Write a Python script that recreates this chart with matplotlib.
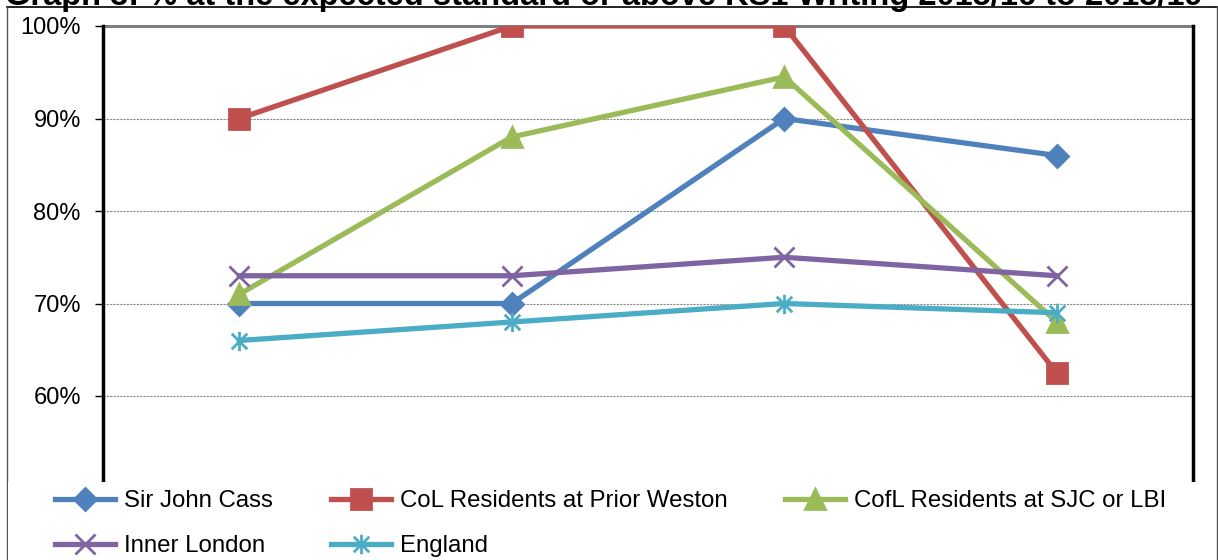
import matplotlib
matplotlib.use("Agg")
import matplotlib.pyplot as plt
from matplotlib.lines import Line2D
from matplotlib.patches import Rectangle
from matplotlib.path import Path
from matplotlib.ticker import FuncFormatter

plt.rcParams['font.family'] = ['Liberation Sans', 'DejaVu Sans']

years = ['2015/16', '2016/17', '2017/18', '2018/19']
sir_john_cass = [70, 70, 90, 86]
col_prior_weston = [90, 100, 100, 62.5]
cofl_sjc_lbi = [71, 88, 94.5, 68]
inner_london = [73, 73, 75, 73]
england = [66, 68, 70, 69]

# excel style star: vertical bar plus an x
star = Path([(0, -1), (0, 1), (-0.8, -0.8), (0.8, 0.8), (-0.8, 0.8), (0.8, -0.8)],
            [Path.MOVETO, Path.LINETO] * 3)

series = [
    ('Sir John Cass', sir_john_cass, '#4F81BD', 'D', 11),
    ('CoL Residents at Prior Weston', col_prior_weston, '#C0504D', 's', 15),
    ('CofL Residents at SJC or LBI', cofl_sjc_lbi, '#9BBB59', '^', 15),
    ('Inner London', inner_london, '#8064A2', 'x', 14),
    ('England', england, '#4BACC6', star, 14),
]

W, H = 1218, 560
fig = plt.figure(figsize=(W / 100, H / 100), dpi=100)
ax = fig.add_axes([103 / W, 1 - 488.5 / H, 1090 / W, 462.5 / H])

x = list(range(len(years)))
for label, vals, col, mk, ms in series:
    ax.plot(x, vals, color=col, lw=3.8, marker=mk, markersize=ms,
            markerfacecolor=col, markeredgecolor=col, markeredgewidth=2,
            label=label, zorder=3)

ax.set_xlim(-0.5, 3.5)
ax.set_ylim(50, 100)
ax.set_yticks([60, 70, 80, 90, 100])
ax.yaxis.set_major_formatter(FuncFormatter(lambda v, p: f'{v:.0f}%'))
ax.set_xticks([])
ax.tick_params(axis='y', labelsize=17, length=6, width=1, direction='out', pad=10)
for y in [60, 70, 80, 90]:
    ax.axhline(y, color='#888888', lw=0.8, ls=(0, (2, 1)), zorder=1)
ax.axhline(100, color='#7f7f7f', lw=2.2, zorder=2, clip_on=False)
ax.spines['top'].set_visible(False)
ax.spines['bottom'].set_visible(False)
ax.spines['left'].set_linewidth(2.5)
ax.spines['right'].set_linewidth(2.5)

# outer frame
fig.add_artist(Line2D([7 / W, 1217 / W], [1 - 7 / H, 1 - 7 / H], color='black', lw=1.2))
fig.add_artist(Line2D([7 / W, 7 / W], [0, 1 - 7 / H], color='#555555', lw=1))
fig.add_artist(Line2D([1217 / W, 1217 / W], [0, 1 - 7 / H], color='#555555', lw=1))

# white legend area covers the bottom of the plot
fig.add_artist(Rectangle((8 / W, 0), 1208 / W, 1 - 482 / H, transform=fig.transFigure,
                         facecolor='white', edgecolor='none', zorder=4))

fig.text(5 / W, 1 - 5 / H,
         'Graph 3: % at the expected standard or above KS1 Writing 2015/16 to 2018/19',
         fontsize=23.5, fontweight='bold', va='baseline', ha='left')

handles, labels = ax.get_legend_handles_labels()
order = [0, 3, 1, 4, 2]
leg = fig.legend([handles[i] for i in order], [labels[i] for i in order],
                 loc='upper left', bbox_to_anchor=(55 / W, 1 - 490 / H), ncol=3,
                 frameon=False, fontsize=17.3, borderpad=0, borderaxespad=0,
                 handlelength=2.5, handletextpad=0.38, columnspacing=2.4,
                 labelspacing=0.97)
leg.set_zorder(5)

fig.savefig('out.png', dpi=100)
